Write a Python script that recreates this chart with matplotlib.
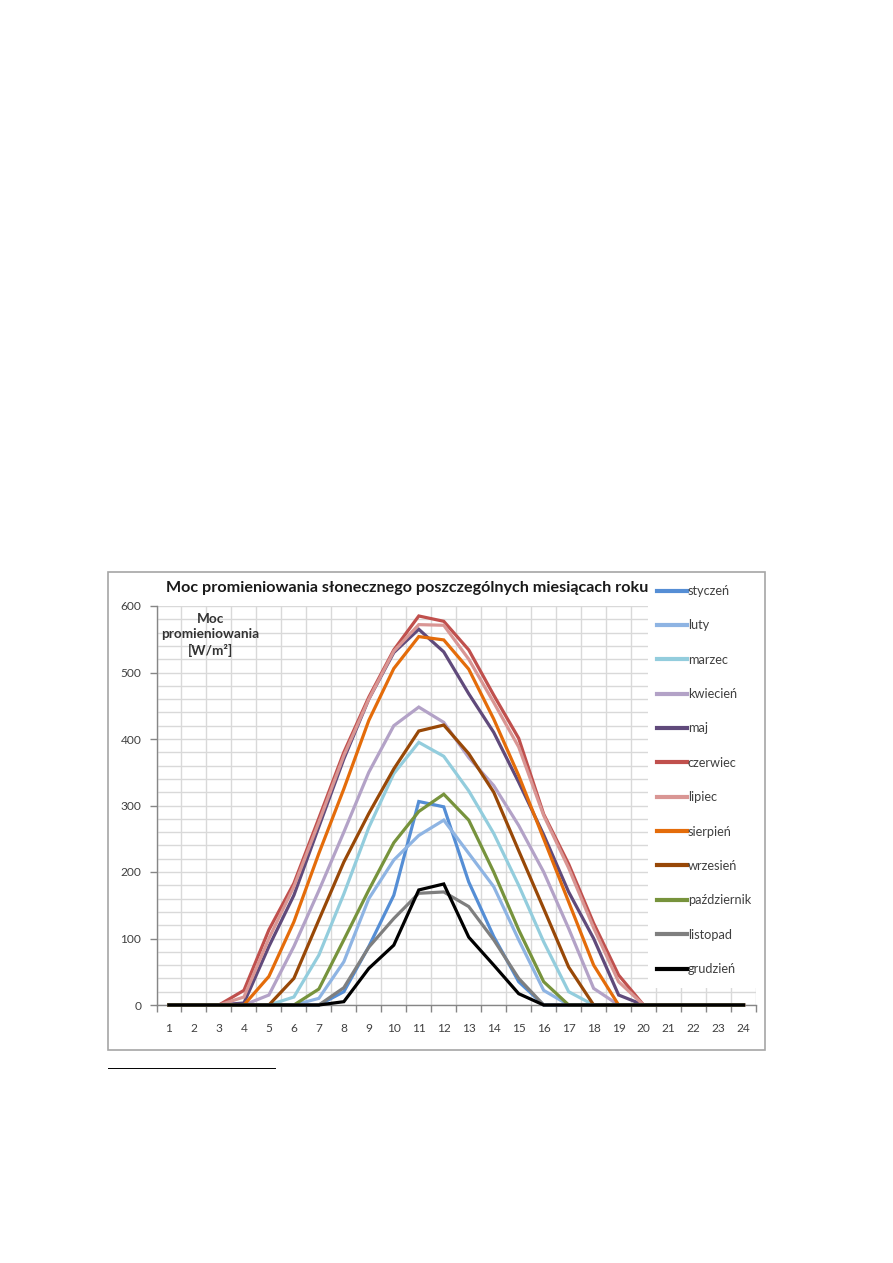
import matplotlib
matplotlib.use("Agg")
import matplotlib.pyplot as plt
from matplotlib.patches import Rectangle
from matplotlib.lines import Line2D

## Data
hours = list(range(1, 25))
months = ["styczeń", "luty", "marzec", "kwiecień", "maj", "czerwiec",
          "lipiec", "sierpień", "wrzesień", "październik", "listopad", "grudzień"]
colors = ["#558ED5", "#8EB4E3", "#93CDDD", "#B3A2C7", "#604A7B", "#C0504D",
          "#D99694", "#E46C0A", "#984807", "#77933C", "#7F7F7F", "#000000"]

styczen     = [0, 0, 0, 0, 0, 0, 0, 20, 88, 165, 306, 298, 185, 103, 35, 0, 0, 0, 0, 0, 0, 0, 0, 0]
luty        = [0, 0, 0, 0, 0, 0, 10, 65, 160, 218, 255, 278, 228, 178, 98, 22, 0, 0, 0, 0, 0, 0, 0, 0]
marzec      = [0, 0, 0, 0, 0, 12, 75, 167, 267, 348, 395, 374, 322, 258, 180, 95, 20, 0, 0, 0, 0, 0, 0, 0]
kwiecien    = [0, 0, 0, 0, 15, 88, 172, 260, 350, 420, 448, 425, 372, 330, 270, 200, 115, 25, 0, 0, 0, 0, 0, 0]
maj         = [0, 0, 0, 3, 88, 165, 268, 370, 460, 530, 565, 531, 468, 410, 335, 256, 170, 100, 15, 0, 0, 0, 0, 0]
czerwiec    = [0, 0, 0, 22, 113, 183, 281, 380, 463, 534, 585, 577, 534, 466, 401, 287, 212, 123, 45, 0, 0, 0, 0, 0]
lipiec      = [0, 0, 0, 12, 100, 178, 275, 375, 460, 532, 572, 571, 520, 455, 388, 285, 206, 116, 35, 0, 0, 0, 0, 0]
sierpien    = [0, 0, 0, 0, 43, 125, 228, 325, 428, 506, 554, 549, 505, 430, 345, 250, 155, 60, 0, 0, 0, 0, 0, 0]
wrzesien    = [0, 0, 0, 0, 0, 40, 128, 215, 288, 355, 412, 421, 378, 320, 232, 145, 57, 0, 0, 0, 0, 0, 0, 0]
pazdziernik = [0, 0, 0, 0, 0, 0, 24, 98, 173, 244, 291, 317, 278, 200, 113, 35, 0, 0, 0, 0, 0, 0, 0, 0]
listopad    = [0, 0, 0, 0, 0, 0, 0, 26, 87, 130, 168, 170, 148, 98, 40, 0, 0, 0, 0, 0, 0, 0, 0, 0]
grudzien    = [0, 0, 0, 0, 0, 0, 0, 5, 55, 90, 173, 182, 102, 60, 17, 0, 0, 0, 0, 0, 0, 0, 0, 0]

series = [styczen, luty, marzec, kwiecien, maj, czerwiec,
          lipiec, sierpien, wrzesien, pazdziernik, listopad, grudzien]

title = "Moc promieniowania słonecznego poszczególnych miesiącach roku"
ylabel = "Moc\npromieniowania\n[W/m²]"

plt.rcParams["font.family"] = ["Lato", "DejaVu Sans"]

W, H = 893, 1263
fig = plt.figure(figsize=(W / 100, H / 100), dpi=100)
fig.patch.set_facecolor("white")

## plot area in pixels of the page
x0, x1, y0, y1 = 156.5, 756.0, 1005.0, 606.0
ax = fig.add_axes([x0 / W, 1 - y0 / H, (x1 - x0) / W, (y0 - y1) / H])

for vals, name, col in zip(series, months, colors):
    ax.plot(hours, vals, color=col, lw=2.3, label=name, clip_on=False,
            solid_joinstyle="miter", zorder=3)

ax.set_xlim(0.5, 24.5)
ax.set_ylim(0, 600)

## category axis: ticks between categories, labels at centres
ax.set_xticks([h - 0.5 for h in hours] + [24.5])
ax.set_xticklabels([])
ax.set_xticks(hours, minor=True)
ax.set_xticklabels([str(h) for h in hours], minor=True)
ax.tick_params(axis="x", which="major", length=5, width=1, color="#868686", direction="out")
ax.tick_params(axis="x", which="minor", length=0, pad=13, labelsize=8.6, labelcolor="#404040")

ax.set_yticks(range(0, 601, 100))
ax.set_yticks(range(0, 601, 20), minor=True)
ax.tick_params(axis="y", which="major", length=5, width=1, color="#868686",
               pad=6, labelsize=8.6, labelcolor="#404040")
ax.tick_params(axis="y", which="minor", length=0)

ax.grid(True, which="both", axis="y", color="#D9D9D9", lw=1.0)
ax.grid(True, which="major", axis="x", color="#D9D9D9", lw=1.0)
ax.set_axisbelow(True)

for s in ["top", "right"]:
    ax.spines[s].set_visible(False)
for s in ["left", "bottom"]:
    ax.spines[s].set_color("#868686")
    ax.spines[s].set_linewidth(1.0)
    ax.spines[s].set_zorder(2.5)

## white area behind the legend hides the grid
ax.add_patch(Rectangle((648 / W, 1 - 988 / H), (763 - 648) / W, (988 - 575) / H,
                       transform=fig.transFigure, facecolor="white", edgecolor="none",
                       zorder=1.8, clip_on=False))

leg = ax.legend(loc="upper left", bbox_to_anchor=(657 / W, 1 - 585 / H),
                bbox_transform=fig.transFigure, frameon=False, fontsize=9.2,
                handlelength=2.35, handletextpad=0.05, labelspacing=1.75,
                borderpad=0, borderaxespad=0)
for t in leg.get_texts():
    t.set_color("#404040")
for l in leg.get_lines():
    l.set_linewidth(3.0)

fig.text(407.5 / W, 1 - 588 / H, title, ha="center", va="center",
         fontsize=11.6, fontweight="bold", color="#1a1a1a")
fig.text(210.5 / W, 1 - 635 / H, ylabel, ha="center", va="center",
         fontsize=9.8, fontweight="bold", color="#333333", linespacing=1.3)

## chart frame and footnote rule
fig.add_artist(Rectangle((108 / W, 1 - 1050 / H), (765 - 108) / W, (1050 - 572) / H,
                         transform=fig.transFigure, fill=False, edgecolor="#A6A6A6", lw=1.2))
fig.add_artist(Line2D([108 / W, 275 / W], [1 - 1068 / H] * 2, color="black", lw=0.7))

fig.savefig("out.png", dpi=100)
